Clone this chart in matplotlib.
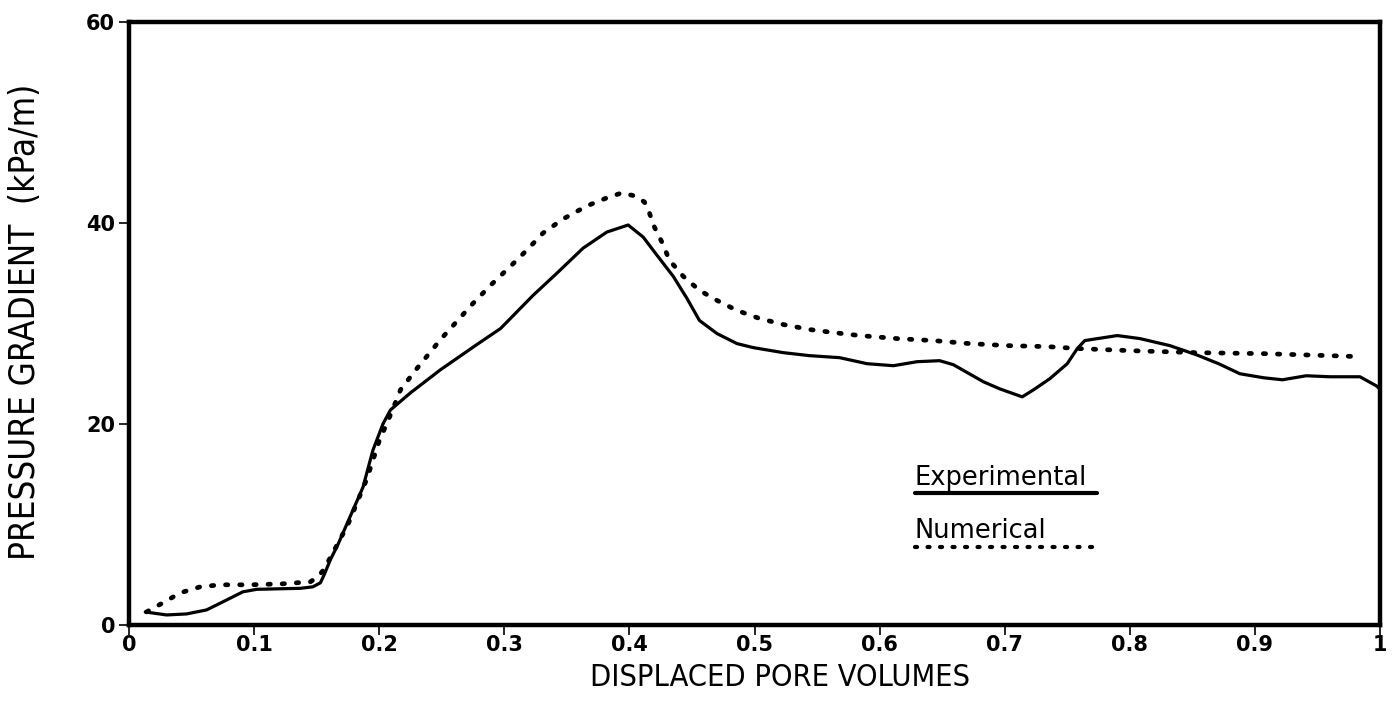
import matplotlib
matplotlib.use("Agg")
import matplotlib.pyplot as plt
from matplotlib import font_manager as fm

# ---- data ----
exp_x = [0.013, 0.030, 0.046, 0.062, 0.075, 0.091, 0.102, 0.137, 0.147, 0.153, 0.156, 0.161,
         0.167, 0.174, 0.187, 0.195, 0.203, 0.209, 0.225, 0.249, 0.278, 0.297, 0.323, 0.342,
         0.363, 0.382, 0.399, 0.411, 0.422, 0.435, 0.446, 0.456, 0.470, 0.486, 0.499, 0.523,
         0.544, 0.568, 0.590, 0.611, 0.630, 0.648, 0.659, 0.683, 0.696, 0.714, 0.723, 0.736,
         0.750, 0.758, 0.764, 0.790, 0.808, 0.832, 0.853, 0.871, 0.888, 0.907, 0.922, 0.941,
         0.960, 0.984, 0.997, 1.0]
exp_y = [1.3, 1.0, 1.1, 1.5, 2.3, 3.3, 3.55, 3.65, 3.8, 4.2, 5.0, 6.5,
         8.0, 10.0, 13.7, 17.4, 20.0, 21.4, 23.1, 25.4, 27.9, 29.5, 32.8, 35.0,
         37.5, 39.1, 39.8, 38.6, 36.8, 34.7, 32.5, 30.3, 29.0, 28.0, 27.6, 27.1,
         26.8, 26.6, 26.0, 25.8, 26.2, 26.3, 25.9, 24.2, 23.5, 22.7, 23.4, 24.5,
         26.0, 27.5, 28.3, 28.8, 28.5, 27.8, 26.9, 26.0, 25.0, 24.6, 24.4, 24.8,
         24.7, 24.7, 23.8, 23.5]

num_x = [0.014, 0.027, 0.041, 0.057, 0.073, 0.097, 0.123, 0.145, 0.151, 0.155, 0.160, 0.175,
         0.190, 0.200, 0.210, 0.217, 0.230, 0.249, 0.262, 0.275, 0.289, 0.305, 0.318, 0.331,
         0.347, 0.366, 0.382, 0.394, 0.404, 0.412, 0.416, 0.420, 0.426, 0.432, 0.443, 0.456,
         0.470, 0.486, 0.504, 0.523, 0.544, 0.563, 0.584, 0.614, 0.643, 0.672, 0.702, 0.734,
         0.760, 0.800, 0.853, 0.907, 0.960, 0.984]
num_y = [1.3, 2.2, 3.2, 3.8, 4.0, 4.0, 4.1, 4.3, 4.8, 5.4, 6.5, 10.0,
         14.5, 18.3, 21.2, 23.4, 25.5, 28.4, 30.2, 32.0, 33.8, 35.7, 37.3, 39.0,
         40.4, 41.7, 42.5, 43.0, 42.7, 42.1, 41.0, 39.6, 38.1, 36.3, 34.7, 33.3,
         32.3, 31.3, 30.5, 29.9, 29.4, 29.1, 28.8, 28.5, 28.3, 28.0, 27.8, 27.7,
         27.5, 27.3, 27.1, 27.0, 26.8, 26.7]

x_ticks = [0, 0.1, 0.2, 0.3, 0.4, 0.5, 0.6, 0.7, 0.8, 0.9, 1.0]
x_tick_labels = ["0", "0.1", "0.2", "0.3", "0.4", "0.5", "0.6", "0.7", "0.8", "0.9", "1"]
y_ticks = [0, 20, 40, 60]
y_tick_labels = ["0", "20", "40", "60"]

x_label = "DISPLACED PORE VOLUMES"
y_label = "PRESSURE GRADIENT  (kPa/m)"
legend_labels = ["Experimental", "Numerical"]

# ---- pick a narrow font for the axis titles ----
fonts = fm.fontManager.ttflist
names = {f.name for f in fonts}
if "Liberation Sans Narrow" in names:
    label_font = dict(family="Liberation Sans Narrow")
    xl_size, yl_size = 25, 27
elif any(f.name == "DejaVu Sans" and "condensed" in str(f.stretch) for f in fonts):
    label_font = dict(family="DejaVu Sans", stretch="condensed")
    xl_size, yl_size = 22, 25
else:
    label_font = dict(family="Liberation Sans")
    xl_size, yl_size = 20, 23

# ---- figure ----
fig = plt.figure(figsize=(13.97, 7.18), dpi=100)
ax = fig.add_axes([129/1397, 93/718, (1380-129)/1397, (625-22)/718])

dotted = (0, (0.5, 2.5))
ax.plot(exp_x, exp_y, color="black", lw=2.3, solid_capstyle="round", solid_joinstyle="round")
ax.plot(num_x, num_y, color="black", lw=3.4, linestyle=dotted, dash_capstyle="round")

ax.set_xlim(0, 1)
ax.set_ylim(0, 60)
for s in ax.spines.values():
    s.set_linewidth(3.2)

tick_font = dict(family="DejaVu Sans", weight="bold", size=15)
ax.set_xticks(x_ticks)
ax.set_xticklabels(x_tick_labels, fontdict=tick_font)
ax.set_yticks(y_ticks)
ax.set_yticklabels(y_tick_labels, fontdict=tick_font)
ax.tick_params(axis="both", direction="out", length=7, width=1.2)
ax.tick_params(axis="x", pad=0)
ax.tick_params(axis="y", pad=3)

fig.text(780/1397, 1 - 686/718, x_label, ha="center", va="baseline", size=xl_size, **label_font)
fig.text(25/1397, 1 - 322/718, y_label, ha="center", va="center", rotation=90, size=yl_size, **label_font)

# legend drawn as in the original: text with a line underneath
leg_font = dict(family="DejaVu Sans", size=18.5)
ax.text(0.628, 13.9, legend_labels[0], ha="left", va="baseline", **leg_font)
ax.plot([0.628, 0.774], [13.1, 13.1], color="black", lw=3.0, solid_capstyle="round")
ax.text(0.628, 8.65, legend_labels[1], ha="left", va="baseline", **leg_font)
ax.plot([0.628, 0.774], [7.8, 7.8], color="black", lw=3.0, linestyle=dotted, dash_capstyle="round")

fig.savefig("out.png", dpi=100)
